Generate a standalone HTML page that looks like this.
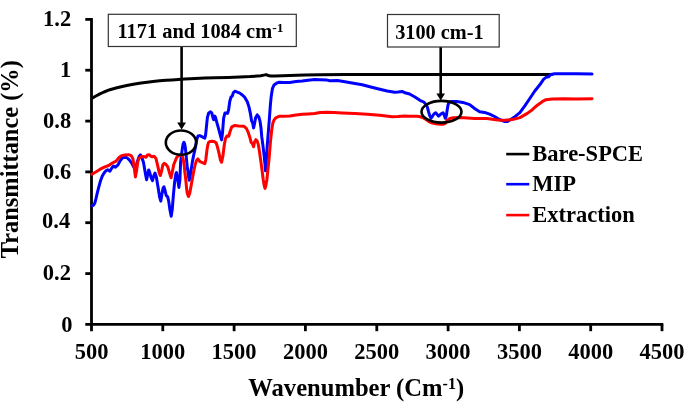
<!DOCTYPE html>
<html><head><meta charset="utf-8"><title>FTIR spectra</title>
<style>html,body{margin:0;padding:0;background:#fff;}body{width:685px;height:402px;overflow:hidden;position:relative;}</style>
</head><body>
<svg width="685" height="402" viewBox="0 0 685 402" style="display:block;position:absolute;left:0;top:0">
<rect width="685" height="402" fill="#fff"/>
<g stroke="#000" stroke-width="2.8" fill="none" stroke-linecap="butt">
<path d="M91.5 18.099999999999998 V331.2"/>
<path d="M85.3 324.4 H663.3"/>
<path d="M162.8 324.4 v6.8"/>
<path d="M234.1 324.4 v6.8"/>
<path d="M305.4 324.4 v6.8"/>
<path d="M376.8 324.4 v6.8"/>
<path d="M448.1 324.4 v6.8"/>
<path d="M519.4 324.4 v6.8"/>
<path d="M590.7 324.4 v6.8"/>
<path d="M662.0 324.4 v6.8"/>
<path d="M91.5 273.6 h-6.2"/>
<path d="M91.5 222.7 h-6.2"/>
<path d="M91.5 171.9 h-6.2"/>
<path d="M91.5 121.1 h-6.2"/>
<path d="M91.5 70.2 h-6.2"/>
<path d="M91.5 19.4 h-6.2"/>
</g>
<g fill="none" stroke-linejoin="round" stroke-linecap="round">
<path d="M92.5 98.1 L95.0 96.5 L99.9 93.9 L104.0 92.0 L109.9 89.7 L116.0 88.0 L122.3 86.5 L128.0 85.3 L134.8 84.0 L141.0 83.0 L147.2 82.2 L153.0 81.5 L159.6 80.8 L166.0 80.3 L172.1 79.9 L178.0 79.5 L184.5 79.1 L190.0 78.8 L195.0 78.5 L205.0 78.1 L215.0 77.8 L228.0 77.5 L240.0 77.1 L250.0 76.6 L260.7 75.8 L264.0 75.1 L266.2 74.6 L268.0 75.5 L270.5 76.0 L275.0 75.9 L289.8 75.5 L304.5 75.0 L320.0 74.8 L345.0 74.6 L360.0 74.6 L400.0 74.6 L440.0 74.6 L480.0 74.5 L520.0 74.5 L552.0 74.4" stroke="#000" stroke-width="3.0"/>
<path d="M91.9 205.9 L93.5 205.1 L94.8 203.2 L95.9 198.9 L97.3 192.8 L98.9 186.6 L100.6 180.5 L102.3 176.1 L104.1 173.0 L105.8 170.9 L107.8 169.8 L109.0 170.5 L109.9 171.2 L111.8 168.0 L113.6 166.1 L115.5 167.1 L118.0 164.9 L119.9 161.2 L122.4 158.0 L124.8 156.8 L127.3 158.0 L129.8 160.5 L132.3 164.3 L133.6 166.8 L135.0 167.5 L136.6 164.0 L137.9 159.9 L139.2 156.2 L140.4 154.9 L141.6 156.8 L143.5 162.4 L145.4 173.6 L146.6 179.8 L147.9 173.6 L148.7 169.9 L149.7 172.4 L151.0 177.3 L152.5 180.6 L153.7 176.2 L155.0 173.1 L156.2 176.2 L158.1 187.4 L159.7 197.4 L160.8 201.1 L161.8 194.9 L163.1 188.0 L163.9 186.8 L164.9 189.9 L166.2 195.5 L167.7 196.8 L168.7 201.1 L169.9 209.8 L171.2 216.3 L172.2 209.8 L173.4 194.9 L174.6 182.4 L175.9 173.7 L176.5 172.5 L177.6 178.7 L178.9 187.4 L179.9 180.0 L180.6 162.3 L181.6 154.0 L182.5 147.4 L183.2 143.6 L183.9 142.3 L184.6 143.6 L185.3 147.4 L186.0 154.0 L186.6 160.6 L187.2 166.2 L188.0 171.8 L188.7 177.4 L189.2 180.2 L190.0 177.4 L190.8 171.8 L191.7 166.2 L192.6 160.6 L193.7 155.0 L194.9 149.9 L196.7 139.9 L198.0 136.0 L199.8 135.6 L202.3 136.8 L204.8 138.1 L205.6 134.8 L206.5 126.1 L207.4 117.4 L208.7 113.0 L210.6 111.8 L211.8 113.0 L213.0 118.0 L213.7 119.8 L214.7 116.1 L215.5 117.4 L216.8 122.3 L218.6 128.6 L220.4 135.5 L221.6 139.9 L222.5 133.0 L223.6 118.5 L224.9 113.0 L226.1 113.0 L227.6 113.4 L228.6 109.9 L229.8 101.2 L231.1 96.8 L232.3 96.2 L233.3 92.7 L234.8 91.2 L237.3 92.2 L239.8 93.1 L242.3 95.0 L244.8 97.4 L247.3 101.8 L249.1 107.4 L250.4 113.6 L251.6 121.1 L252.5 122.3 L253.6 127.9 L254.5 123.6 L255.7 117.4 L257.2 114.9 L258.7 116.7 L260.0 121.1 L261.0 128.0 L261.7 136.2 L263.0 146.1 L264.2 156.1 L265.0 164.5 L265.5 170.8 L266.1 164.5 L267.3 144.9 L268.4 131.0 L269.4 118.3 L270.3 105.9 L271.2 96.4 L272.4 88.7 L274.0 85.0 L276.5 83.2 L278.6 82.3 L284.0 82.6 L289.8 82.4 L296.0 81.6 L302.2 81.1 L308.0 80.2 L314.6 79.6 L320.0 79.8 L327.0 80.1 L330.0 80.8 L337.5 80.5 L344.9 81.8 L354.9 83.6 L362.3 84.8 L369.8 86.8 L379.8 89.3 L387.2 91.0 L394.7 92.3 L398.0 92.0 L402.1 91.4 L405.0 92.8 L409.6 94.0 L414.9 97.0 L419.9 100.3 L423.7 102.0 L425.9 104.3 L427.2 106.7 L428.5 111.5 L429.8 115.9 L431.1 118.3 L432.4 116.3 L434.1 113.7 L435.7 112.8 L437.2 114.6 L438.5 116.1 L439.8 115.0 L441.5 113.5 L443.0 112.7 L444.2 115.0 L445.3 118.3 L446.3 115.9 L447.2 109.8 L448.1 104.6 L449.1 102.4 L451.6 101.5 L456.8 101.5 L462.9 102.4 L469.7 104.6 L474.6 108.5 L479.6 111.7 L484.6 112.4 L489.6 114.2 L494.5 116.5 L499.5 119.5 L504.9 121.6 L507.5 121.5 L511.1 119.3 L514.9 116.6 L519.9 112.6 L524.8 105.9 L529.8 98.5 L534.8 91.0 L539.8 84.8 L543.5 79.3 L546.0 77.3 L548.5 76.8 L550.9 74.5 L554.7 73.8 L564.6 73.7 L577.0 73.8 L592.0 74.1" stroke="#0000ff" stroke-width="3.0"/>
<path d="M91.9 174.2 L96.2 171.7 L100.6 168.9 L104.9 166.8 L108.7 165.5 L112.4 163.0 L116.1 161.2 L118.6 158.0 L121.1 155.9 L124.8 154.9 L128.6 154.7 L131.1 155.6 L132.9 158.7 L134.2 167.4 L135.4 176.9 L136.7 169.9 L137.9 161.2 L139.2 158.0 L141.0 156.8 L143.5 156.4 L146.0 157.2 L147.5 154.9 L149.1 154.7 L150.7 156.2 L152.2 156.8 L154.1 156.2 L156.0 158.7 L157.8 166.1 L159.1 172.4 L160.3 175.5 L161.6 171.1 L162.8 164.9 L164.1 163.4 L165.9 164.3 L167.8 166.8 L169.7 173.6 L171.1 177.8 L172.5 171.0 L173.7 164.8 L175.0 161.5 L176.5 157.8 L178.0 156.0 L179.9 155.2 L181.5 155.3 L182.4 156.5 L183.0 158.6 L183.6 161.5 L184.3 166.2 L184.8 172.0 L185.5 177.4 L186.1 183.0 L186.6 188.6 L187.3 193.5 L188.5 196.5 L189.7 193.5 L190.6 188.6 L191.6 183.0 L192.6 177.4 L193.7 171.5 L194.8 166.2 L196.4 160.6 L197.8 158.9 L200.1 161.7 L202.9 162.8 L204.8 163.6 L205.8 159.8 L206.9 150.5 L207.7 145.5 L208.5 142.6 L209.7 141.5 L212.3 141.3 L214.8 141.8 L216.2 143.0 L217.4 146.8 L218.5 151.1 L220.4 159.8 L221.6 162.3 L222.9 156.1 L224.1 146.2 L225.4 138.7 L226.9 135.9 L228.7 136.2 L230.0 131.8 L231.8 126.8 L234.3 125.6 L238.7 126.0 L243.7 126.2 L246.2 128.1 L248.0 131.8 L249.9 137.4 L251.1 142.4 L252.4 143.6 L253.6 146.8 L254.6 141.8 L255.9 139.7 L257.1 140.9 L258.4 144.9 L259.6 152.4 L260.8 161.1 L262.0 169.8 L263.2 179.5 L264.2 185.5 L265.0 188.4 L265.9 185.5 L266.9 179.5 L267.9 169.8 L269.2 157.3 L270.4 142.4 L271.7 130.0 L272.9 122.8 L274.2 119.7 L276.1 117.6 L279.8 116.2 L284.0 116.2 L289.8 116.0 L296.0 115.0 L302.2 114.2 L308.0 113.9 L314.6 113.5 L320.0 112.6 L327.0 112.2 L334.0 112.4 L342.4 112.9 L354.9 113.4 L367.3 114.2 L379.8 115.2 L392.2 116.7 L398.0 116.4 L404.6 115.9 L410.0 116.2 L417.1 116.2 L420.2 116.8 L422.5 117.5 L424.6 118.6 L427.0 120.2 L428.9 121.5 L432.4 123.0 L436.0 123.8 L440.0 124.2 L443.5 124.2 L445.3 123.4 L446.3 121.8 L447.2 120.2 L449.8 118.5 L453.3 117.8 L460.3 117.5 L474.6 118.4 L487.0 118.5 L497.5 119.9 L504.9 120.2 L512.4 119.6 L519.9 117.6 L527.3 113.4 L532.3 109.7 L537.3 105.2 L542.2 101.7 L546.0 99.7 L552.2 99.0 L564.6 98.7 L577.0 98.9 L592.0 98.7" stroke="#ff0000" stroke-width="3.0"/>
</g>
<g fill="none" stroke="#000">
<ellipse cx="181" cy="142.6" rx="15.2" ry="12.1" stroke-width="2.6"/>
<ellipse cx="441.5" cy="111.75" rx="20.0" ry="10.9" stroke-width="2.6"/>
<path d="M181.6 46.5 V124" stroke-width="2.6"/>
<path d="M440.7 47 V95" stroke-width="2.6"/>
</g>
<path d="M177.2 122.4 H186.0 L181.6 129.6 Z" fill="#000"/>
<path d="M436.4 93.5 H445.0 L440.7 100.5 Z" fill="#000"/>
<rect x="108.3" y="14.3" width="188" height="32.2" fill="#fff" stroke="#333" stroke-width="1.2"/>
<rect x="387.5" y="14.5" width="111.7" height="32.5" fill="#fff" stroke="#333" stroke-width="1.2"/>
<g stroke-width="2.6" stroke-linecap="butt">
<path d="M506.2 154.1 H529.3" stroke="#000"/>
<path d="M506.2 184.2 H529.3" stroke="#0000ff"/>
<path d="M506.2 215.1 H529.3" stroke="#ff0000"/>
</g>
<g font-family="'Liberation Serif', 'Times New Roman', serif" font-weight="bold" fill="#000">
<text x="72.4" y="331.6" font-size="22.5" text-anchor="end">0</text>
<text x="70.9" y="279.9" font-size="22.5" text-anchor="end">0.2</text>
<text x="70.2" y="228.0" font-size="22.5" text-anchor="end">0.4</text>
<text x="71.2" y="178.8" font-size="22.5" text-anchor="end">0.6</text>
<text x="71.2" y="128.0" font-size="22.5" text-anchor="end">0.8</text>
<text x="71.2" y="77.1" font-size="22.5" text-anchor="end">1</text>
<text x="71.2" y="26.3" font-size="22.5" text-anchor="end">1.2</text>
<text x="91.5" y="358.9" font-size="22.5" text-anchor="middle">500</text>
<text x="162.8" y="358.9" font-size="22.5" text-anchor="middle">1000</text>
<text x="234.1" y="358.9" font-size="22.5" text-anchor="middle">1500</text>
<text x="305.4" y="358.9" font-size="22.5" text-anchor="middle">2000</text>
<text x="376.8" y="358.9" font-size="22.5" text-anchor="middle">2500</text>
<text x="448.1" y="358.9" font-size="22.5" text-anchor="middle">3000</text>
<text x="519.4" y="358.9" font-size="22.5" text-anchor="middle">3500</text>
<text x="590.7" y="358.9" font-size="22.5" text-anchor="middle">4000</text>
<text x="662.0" y="358.9" font-size="22.5" text-anchor="middle">4500</text>
<text x="532.3" y="161.1" font-size="22.5">Bare-SPCE</text>
<text x="532.3" y="191.2" font-size="22.5">MIP</text>
<text x="532.3" y="221.6" font-size="22.5">Extraction</text>
<text x="117.5" y="38.2" font-size="20.4">1171 and 1084 cm<tspan font-size="13.5" dy="-6.3">-1</tspan></text>
<text x="395.2" y="38.8" font-size="20.3">3100 cm-1</text>
<text x="248.3" y="396.4" font-size="24.6">Wavenumber (Cm<tspan font-size="16" dy="-7">-1</tspan><tspan dy="7">)</tspan></text>
<text transform="translate(18.4 258.2) rotate(-90)" font-size="24.4">Transmittance (%)</text>
</g>
</svg>
</body></html>
